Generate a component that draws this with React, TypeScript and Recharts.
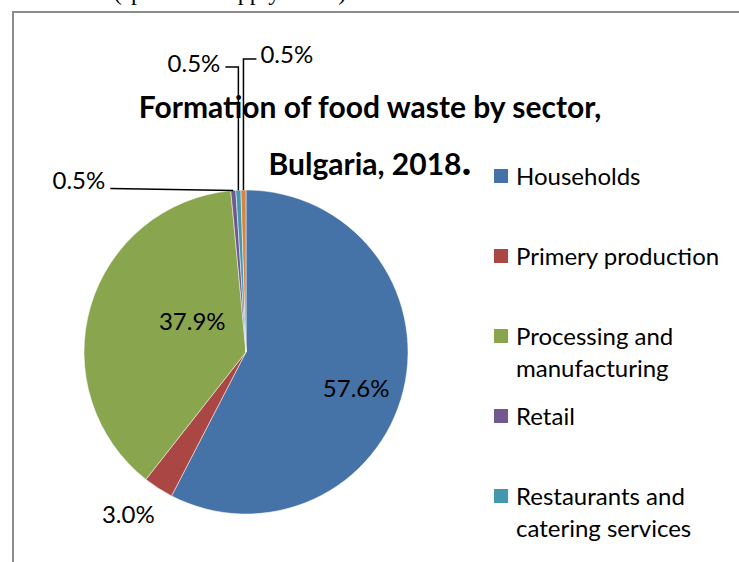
import React from 'react';
import { PieChart, Pie, Cell, Legend } from 'recharts';

const categories = [
  'Households',
  'Primery production',
  'Processing and manufacturing',
  'Retail',
  'Restaurants and catering services',
  'Other',
];
const values = [57.6, 3.0, 37.9, 0.5, 0.5, 0.5];
const colors = ['#4572A7', '#AA4643', '#89A54E', '#71588F', '#4198AF', '#DB843D'];
const legendCount = 5;
const titleLines = ['Formation of food waste by sector,', 'Bulgaria, 2018'];
const topNote = '(spread of supply chain)';

const data = categories.map((name, i) => ({ name, value: values[i] }));

const FONT = 'Lato, "Open Sans", sans-serif';
const LABEL_SIZE = 24;
const RAD = Math.PI / 180;

function polar(cx: number, cy: number, r: number, angle: number) {
  return { x: cx + r * Math.cos(-angle * RAD), y: cy + r * Math.sin(-angle * RAD) };
}

// label placement styles per slice
const labelStyle: any[] = [
  { kind: 'inside', r: 0.7, dx: 0, dy: 9 },
  { kind: 'outside', dx: -30, dy: 25 },
  { kind: 'inside', r: 0.346, dx: 0, dy: -16 },
  { kind: 'leaderLeft', len: 123, rise: 2 },
  { kind: 'elbowLeft', top: 67, arm: 13 },
  { kind: 'elbowRight', top: 59, arm: 13 },
];

const renderLabel = (props: any) => {
  const { cx, cy, midAngle, outerRadius, index, value } = props;
  const st = labelStyle[index];
  const txt = `${Number(value).toFixed(1)}%`;
  const common = { fontFamily: FONT, fontSize: LABEL_SIZE, fill: '#000' } as any;
  if (st.kind === 'inside') {
    const p = polar(cx, cy, outerRadius * st.r, midAngle);
    return (
      <text key={index} x={p.x + st.dx} y={p.y + st.dy} textAnchor="middle" dominantBaseline="central" {...common}>
        {txt}
      </text>
    );
  }
  const e = polar(cx, cy, outerRadius, midAngle);
  if (st.kind === 'outside') {
    return (
      <text key={index} x={e.x + st.dx} y={e.y + st.dy} textAnchor="middle" dominantBaseline="central" {...common}>
        {txt}
      </text>
    );
  }
  if (st.kind === 'leaderLeft') {
    const x2 = e.x - st.len;
    const y2 = e.y - st.rise;
    return (
      <g key={index}>
        <polyline points={`${e.x},${e.y} ${x2},${y2}`} fill="none" stroke="#000" strokeWidth={1.5} />
        <text x={x2 - 5} y={y2 - 9} textAnchor="end" dominantBaseline="central" {...common}>{txt}</text>
      </g>
    );
  }
  if (st.kind === 'elbowLeft') {
    const x2 = e.x - st.arm;
    return (
      <g key={index}>
        <polyline points={`${e.x},${e.y} ${e.x},${st.top} ${x2},${st.top}`} fill="none" stroke="#000" strokeWidth={1.5} />
        <text x={x2 - 5} y={st.top - 5} textAnchor="end" dominantBaseline="central" {...common}>{txt}</text>
      </g>
    );
  }
  const x2 = e.x + st.arm;
  return (
    <g key={index}>
      <polyline points={`${e.x},${e.y} ${e.x},${st.top} ${x2},${st.top}`} fill="none" stroke="#000" strokeWidth={1.5} />
      <text x={x2 + 4} y={st.top - 6} textAnchor="start" dominantBaseline="central" {...common}>{txt}</text>
    </g>
  );
};

const LegendContent = () => {
  return (
    <div style={{ fontFamily: FONT, fontSize: LABEL_SIZE, color: '#000' }}>
      {categories.slice(0, legendCount).map((name, i) => (
        <div key={name} style={{ position: 'absolute', top: i * 80, left: 0, width: 240, display: 'flex', alignItems: 'flex-start' }}>
          <span style={{ display: 'inline-block', width: 14, height: 14, background: colors[i], marginTop: 9, marginRight: 8, flex: 'none' }} />
          <span style={{ lineHeight: '32px', width: 215 }}>{name}</span>
        </div>
      ))}
    </div>
  );
};

export default function App() {
  return (
    <div style={{ position: 'fixed', left: 0, top: 0, width: 739, height: 562, background: '#fff', overflow: 'hidden' }}>
      <div style={{ position: 'absolute', left: 0, top: -22, width: 460, textAlign: 'center', fontFamily: '"Liberation Serif", serif', fontSize: 24, lineHeight: '28px', color: '#000' }}>
        {topNote}
      </div>
      <div style={{ position: 'absolute', left: 12, top: 11, width: 800, height: 600, borderTop: '2px solid #8c8c8c', borderLeft: '2px solid #8c8c8c' }} />
      <div style={{ position: 'absolute', left: 0, top: 0 }}>
        <PieChart width={739} height={562}>
          <Pie
            data={data}
            dataKey="value"
            nameKey="name"
            cx={241}
            cy={347}
            outerRadius={162}
            startAngle={90}
            endAngle={-270}
            stroke="#ffffff"
            strokeWidth={0.5}
            label={renderLabel}
            labelLine={false}
            isAnimationActive={false}
          >
            {data.map((d, i) => (
              <Cell key={d.name} fill={colors[i]} />
            ))}
          </Pie>
          <Legend
            content={<LegendContent />}
            wrapperStyle={{ position: 'absolute', left: 494, top: 160, width: 245, height: 400 }}
          />
        </PieChart>
      </div>
      <div style={{ position: 'absolute', left: 120, top: 80, width: 500, textAlign: 'center', fontFamily: FONT, fontWeight: 700, fontSize: 30, lineHeight: '53px', color: '#000' }}>
        <div>{titleLines[0]}</div>
        <div>{titleLines[1]}<span style={{ fontSize: 42 }}>.</span></div>
      </div>
    </div>
  );
}
